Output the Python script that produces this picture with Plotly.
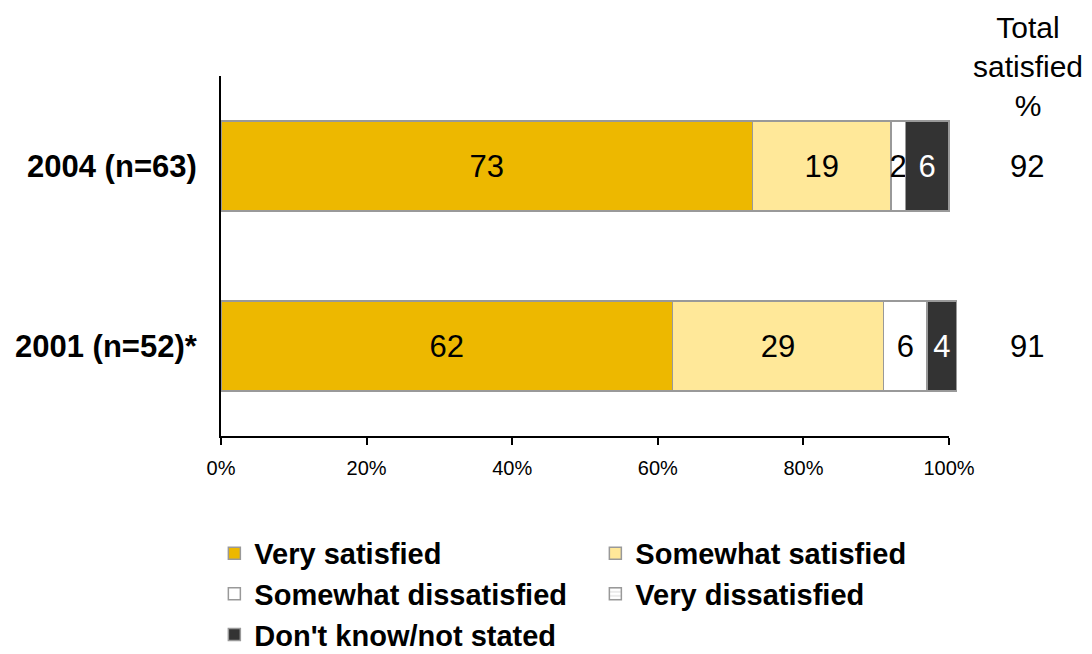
import plotly.graph_objects as go

categories = ["2001 (n=52)*", "2004 (n=63)"]
very_satisfied = [62, 73]
somewhat_satisfied = [29, 19]
somewhat_dissatisfied = [6, 2]
very_dissatisfied = [0, 0]
dont_know = [4, 6]
total_satisfied = [91, 92]
tick_vals = [0, 20, 40, 60, 80, 100]
tick_text = ["0%", "20%", "40%", "60%", "80%", "100%"]

FONT = "Liberation Sans, Arial, sans-serif"
series = [
    ("Very satisfied", very_satisfied, "#EDB800", "black", ""),
    ("Somewhat satisfied", somewhat_satisfied, "#FFE899", "black", ""),
    ("Somewhat dissatisfied", somewhat_dissatisfied, "#FFFFFF", "black", ""),
    ("Very dissatisfied", very_dissatisfied, "#FFFFFF", "black", "-"),
    ("Don't know/not stated", dont_know, "#333333", "white", ""),
]

XMAX = 101.5

fig = go.Figure()
for name, vals, color, tcolor, pat in series:
    marker = dict(color=color, line=dict(color="#999999", width=1.5))
    if pat:
        marker["pattern"] = dict(shape=pat, fgcolor="#999999", bgcolor="#FFFFFF", size=5, solidity=0.2)
    fig.add_trace(go.Bar(
        y=categories, x=vals, name=name, orientation="h",
        marker=marker,
        text=[str(v) if v else "" for v in vals],
        textposition="inside", insidetextanchor="middle",
        constraintext="none",
        textfont=dict(family=FONT, size=31, color=tcolor),
        width=0.5,
    ))

# empty trace so the 0-100% scale axis is drawn
fig.add_trace(go.Scatter(x=[], y=[], xaxis="x2", yaxis="y", showlegend=False, hoverinfo="skip"))

for cat, tot in zip(categories, total_satisfied):
    fig.add_annotation(x=1.091, xref="paper", xanchor="center", y=cat, yref="y", text=str(tot),
                       showarrow=False, font=dict(family=FONT, size=31, color="black"))
fig.add_annotation(x=1.092, xref="paper", xanchor="center", y=1.0, yref="paper", yanchor="middle",
                   yshift=10, text="Total<br>satisfied<br>%", showarrow=False,
                   font=dict(family=FONT, size=30, color="black"))

fig.update_layout(
    barmode="stack",
    width=1092, height=654,
    margin=dict(l=221, r=1092 - 221 - round(7.28 * XMAX), t=76, b=218, autoexpand=False),
    plot_bgcolor="rgba(0,0,0,0)", paper_bgcolor="white",
    font=dict(family=FONT, color="black"),
    xaxis=dict(range=[0, XMAX], visible=False, showgrid=False, zeroline=False),
    xaxis2=dict(range=[0, 100], domain=[0, 100 / XMAX], anchor="y",
                tickvals=tick_vals, ticktext=tick_text,
                ticks="outside", ticklen=7, tickwidth=1.5, tickcolor="black",
                showgrid=False, zeroline=False, showline=True, linecolor="black", linewidth=2,
                ticklabelstandoff=6,
                tickfont=dict(family=FONT, size=20, color="black")),
    yaxis=dict(range=[-0.5, 1.5], showline=True, linecolor="black", linewidth=2,
               ticks="", showgrid=False, ticklabelstandoff=16,
               tickfont=dict(family=FONT, size=31, color="black", weight="bold")),
    legend=dict(orientation="h", x=-0.009, xanchor="left", y=-0.255, yanchor="top",
                entrywidth=336, entrywidthmode="pixels", traceorder="normal",
                font=dict(family=FONT, size=29, color="black", weight="bold"),
                itemwidth=30, tracegroupgap=0),
    showlegend=True,
)

fig.write_html("out.html")
